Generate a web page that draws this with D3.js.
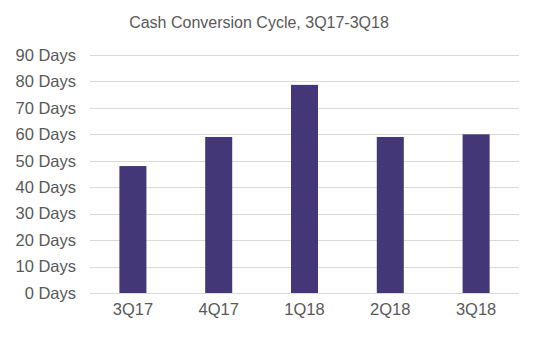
<!DOCTYPE html>
<html><head><meta charset="utf-8">
<script src="https://cdn.jsdelivr.net/npm/d3@7"></script>
<style>body{margin:0;background:#fff}</style>
</head><body>
<script>
const categories = ["3Q17","4Q17","1Q18","2Q18","3Q18"];
const values = [48, 59, 78.7, 59, 60];
const yTicks = [0,10,20,30,40,50,60,70,80,90];
const title = "Cash Conversion Cycle, 3Q17-3Q18";

const W = 547, H = 359;
const svg = d3.select("body").append("svg").attr("width", W).attr("height", H)
  .style("font-family", "'Liberation Sans', Arial, sans-serif");

const x = d3.scaleBand().domain(categories).range([90, 519]).paddingInner(0.685).paddingOuter(0.3425);
const y = d3.scaleLinear().domain([0, 90]).range([293, 55]);

svg.append("text").attr("x", 259).attr("y", 28).attr("text-anchor", "middle")
  .attr("fill", "#595959").style("font-size", "16px").text(title);

const grid = svg.append("g");
grid.selectAll("line").data(yTicks).join("line")
  .attr("x1", 90).attr("x2", 519)
  .attr("y1", d => Math.round(y(d)) + 0.5).attr("y2", d => Math.round(y(d)) + 0.5)
  .attr("stroke", "#d9d9d9").attr("stroke-width", 1);

const yAxis = svg.append("g").attr("transform", "translate(76,0)")
  .call(d3.axisLeft(y).tickValues(yTicks).tickSize(0).tickPadding(0).tickFormat(d => d + " Days"));
yAxis.select(".domain").remove();
yAxis.selectAll("text").attr("fill", "#595959").style("font-size", "16.5px")
  .style("font-family", "'Liberation Sans', Arial, sans-serif");

svg.append("g").selectAll("rect").data(values).join("rect")
  .attr("x", (d, i) => x(categories[i])).attr("width", x.bandwidth())
  .attr("y", d => y(d)).attr("height", d => y(0) - y(d))
  .attr("fill", "#433778");

const xAxis = svg.append("g").attr("transform", "translate(0,293)")
  .call(d3.axisBottom(x).tickSize(0).tickPadding(10));
xAxis.select(".domain").remove();
xAxis.selectAll("text").attr("fill", "#595959").style("font-size", "16.5px")
  .style("font-family", "'Liberation Sans', Arial, sans-serif");
</script>
</body></html>
